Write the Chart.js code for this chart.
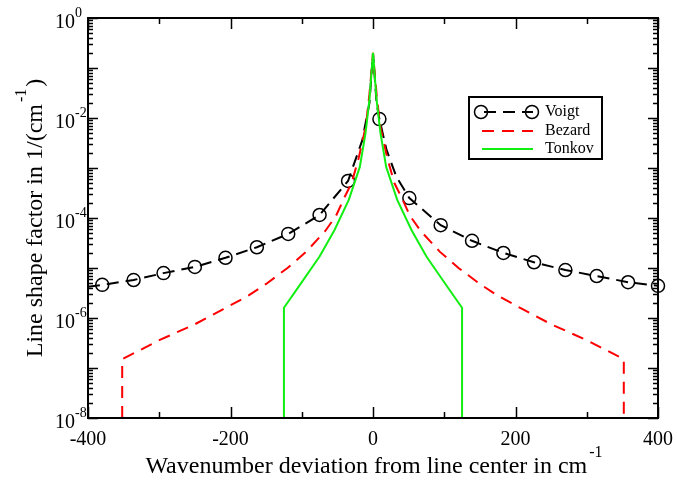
<!DOCTYPE html>
<html>
<head>
<meta charset="utf-8">
<script src="https://cdn.jsdelivr.net/npm/chart.js@4/dist/chart.umd.min.js"></script>
<style>
  html, body { margin: 0; padding: 0; background: #fff; }
  canvas { display: block; }
</style>
</head>
<body>
<canvas id="myChart" width="677" height="480"></canvas>
<script>
'use strict';

// Voigt profile (black dashed, circles on some points)
let voigtX = [-400, -380, -336, -294, -250, -207, -163, -119, -75, -35, -15, -5, 0, 5, 9, 19, 33, 51, 95, 139, 183, 226, 270, 314, 358, 400];
let voigtY = [4.2e-6, 4.6e-6, 5.75e-6, 7.9e-6, 1.05e-5, 1.6e-5, 2.6e-5, 4.8e-5, 1.15e-4, 5.5e-4, 3.6e-3, 0.02, 0.2, 0.02, 9.5e-3, 2.3e-3, 6.6e-4, 2.5e-4, 7.2e-5, 3.5e-5, 2e-5, 1.3e-5, 9.1e-6, 6.9e-6, 5.2e-6, 4.4e-6];
let voigtMarkers = [-380, -336, -294, -250, -207, -163, -119, -75, -35, 9, 51, 95, 139, 183, 226, 270, 314, 358, 400];

// Bezard profile (red dashed)
let bezardX = [-352, -352, -300, -250, -210, -175, -150, -120, -94, -67, -52, -40, -30, -20, -10, -5, 0, 5, 10, 20, 30, 40, 52, 67, 94, 120, 150, 175, 210, 250, 300, 352, 352];
let bezardY = [1e-8, 1.5e-7, 3.6e-7, 7.5e-7, 1.5e-6, 2.8e-6, 4.8e-6, 1e-5, 2.1e-5, 5.5e-5, 1.1e-4, 2.6e-4, 5e-4, 1.6e-3, 7e-3, 0.03, 0.2, 0.03, 7e-3, 1.6e-3, 5e-4, 2.6e-4, 1.1e-4, 5.5e-5, 2.1e-5, 1e-5, 4.8e-6, 2.8e-6, 1.5e-6, 7.5e-7, 3.6e-7, 1.5e-7, 1e-8];

// Tonkov profile (green)
let tonkovX = [-125, -125, -106, -75, -54, -34, -18.5, -10.5, -5, 0, 5, 10.5, 18.5, 34, 54, 75, 106, 125, 125];
let tonkovY = [1e-8, 1.6e-6, 3.9e-6, 1.7e-5, 5.75e-5, 2.3e-4, 1.05e-3, 5e-3, 0.023, 0.2, 0.023, 5e-3, 1.05e-3, 2.3e-4, 5.75e-5, 1.7e-5, 3.9e-6, 1.6e-6, 1e-8];

let xMajor = [-400, -200, 0, 200, 400];
let xMinor = [-300, -100, 100, 300];
let xTickLabels = ['-400', '-200', '0', '200', '400'];
let yDecades = [0, -1, -2, -3, -4, -5, -6, -7, -8];
let yLabelExps = ['0', '-2', '-4', '-6', '-8'];

let seriesNames = ['Voigt', 'Bezard', 'Tonkov'];

const serif = '"Liberation Serif", "Times New Roman", serif';

function toPoints(xs, ys) {
  return xs.map((x, i) => ({ x: x, y: ys[i] }));
}

// axes, ticks, labels and legend drawn like the xmgrace original
let graceAxes = {
  id: 'graceAxes',
  afterDatasetsDraw(chart) {
    const ctx = chart.ctx;
    const a = chart.chartArea;
    const xs = chart.scales.x;
    const ys = chart.scales.y;
    ctx.save();
    ctx.strokeStyle = '#000';
    ctx.fillStyle = '#000';

    // tick marks, inward on all four sides
    ctx.lineWidth = 1.5;
    ctx.beginPath();
    xMajor.forEach(v => {
      let p = Math.round(xs.getPixelForValue(v)) + 0.5;
      ctx.moveTo(p, a.bottom); ctx.lineTo(p, a.bottom - 11);
      ctx.moveTo(p, a.top); ctx.lineTo(p, a.top + 11);
    });
    xMinor.forEach(v => {
      let p = Math.round(xs.getPixelForValue(v)) + 0.5;
      ctx.moveTo(p, a.bottom); ctx.lineTo(p, a.bottom - 6);
      ctx.moveTo(p, a.top); ctx.lineTo(p, a.top + 6);
    });
    yDecades.forEach(d => {
      let p = Math.round(ys.getPixelForValue(Math.pow(10, d))) + 0.5;
      ctx.moveTo(a.left, p); ctx.lineTo(a.left + 10, p);
      ctx.moveTo(a.right, p); ctx.lineTo(a.right - 10, p);
      if (d > -8) {
        for (let m = 2; m <= 9; m++) {
          let q = Math.round(ys.getPixelForValue(m * Math.pow(10, d - 1))) + 0.5;
          ctx.moveTo(a.left, q); ctx.lineTo(a.left + 5, q);
          ctx.moveTo(a.right, q); ctx.lineTo(a.right - 5, q);
        }
      }
    });
    ctx.stroke();

    // frame
    ctx.lineWidth = 2;
    ctx.strokeRect(a.left, a.top, a.right - a.left, a.bottom - a.top);

    // x tick labels
    ctx.font = '20px ' + serif;
    ctx.textAlign = 'center';
    ctx.textBaseline = 'alphabetic';
    xMajor.forEach((v, i) => {
      ctx.fillText(xTickLabels[i], xs.getPixelForValue(v), a.bottom + 27);
    });

    // y tick labels: 10 with superscript exponent
    yLabelExps.forEach(e => {
      let p = ys.getPixelForValue(Math.pow(10, Number(e)));
      ctx.font = '20px ' + serif;
      ctx.textAlign = 'right';
      ctx.fillText('10', 75, p + 10);
      ctx.font = '14px ' + serif;
      ctx.textAlign = 'left';
      ctx.fillText(e, 75, p - 1);
    });

    // x title
    let xt = 'Wavenumber deviation from line center in cm';
    ctx.font = '24px ' + serif;
    ctx.textAlign = 'left';
    let w1 = ctx.measureText(xt).width;
    ctx.font = '16px ' + serif;
    let w2 = ctx.measureText('-1').width;
    let cx = (a.left + a.right) / 2;
    let x0 = cx - (w1 + w2) / 2;
    ctx.font = '24px ' + serif;
    ctx.fillText(xt, x0, 473);
    ctx.font = '16px ' + serif;
    ctx.fillText('-1', x0 + w1 + 2, 457);

    // y title (rotated)
    ctx.save();
    ctx.translate(42, (a.top + a.bottom) / 2);
    ctx.rotate(-Math.PI / 2);
    let yt = 'Line shape factor in 1/(cm';
    ctx.font = '24px ' + serif;
    let v1 = ctx.measureText(yt).width;
    ctx.font = '16px ' + serif;
    let v2 = ctx.measureText('-1').width;
    ctx.font = '24px ' + serif;
    let v3 = ctx.measureText(')').width;
    let y0 = -(v1 + v2 + v3 + 4) / 2;
    ctx.fillText(yt, y0, 0);
    ctx.font = '16px ' + serif;
    ctx.fillText('-1', y0 + v1 + 2, -16);
    ctx.font = '24px ' + serif;
    ctx.fillText(')', y0 + v1 + v2 + 4, 0);
    ctx.restore();

    // legend box
    const lx = 469, ly = 97, lw = 133, lh = 62;
    ctx.fillStyle = '#fff';
    ctx.fillRect(lx, ly, lw, lh);
    ctx.lineWidth = 2;
    ctx.strokeRect(lx, ly, lw, lh);
    let rows = [112, 131, 149];
    chart.data.datasets.forEach((ds, i) => {
      let ry = rows[i];
      ctx.save();
      ctx.strokeStyle = ds.borderColor;
      ctx.lineWidth = ds.borderWidth;
      ctx.setLineDash(ds.borderDash || []);
      ctx.beginPath();
      ctx.moveTo(i === 0 ? 484 : 482, ry);
      ctx.lineTo(533, ry);
      ctx.stroke();
      ctx.setLineDash([]);
      if (i === 0) {
        ctx.lineWidth = 1.5;
        ctx.beginPath(); ctx.arc(481, ry, 6.5, 0, Math.PI * 2); ctx.stroke();
        ctx.beginPath(); ctx.arc(532, ry, 6.5, 0, Math.PI * 2); ctx.stroke();
      }
      ctx.restore();
      ctx.fillStyle = '#000';
      ctx.font = '16px ' + serif;
      ctx.textAlign = 'left';
      ctx.textBaseline = 'middle';
      ctx.fillText(ds.label, 545, ry);
    });
    ctx.restore();
  }
};

let ctx = document.getElementById('myChart').getContext('2d');
let myChart = new Chart(ctx, {
  type: 'line',
  data: {
    datasets: [{
      label: seriesNames[0],
      data: toPoints(voigtX, voigtY),
      borderColor: '#000',
      borderWidth: 2,
      borderDash: [12, 7],
      pointStyle: 'circle',
      pointRadius: c => voigtMarkers.includes(voigtX[c.dataIndex]) ? 6.5 : 0,
      pointBorderColor: '#000',
      pointBackgroundColor: 'rgba(0,0,0,0)',
      pointBorderWidth: 1.5,
      clip: false,
      order: 2
    }, {
      label: seriesNames[1],
      data: toPoints(bezardX, bezardY),
      borderColor: '#ff0000',
      borderWidth: 2,
      borderDash: [12, 8],
      pointRadius: 0,
      order: 1
    }, {
      label: seriesNames[2],
      data: toPoints(tonkovX, tonkovY),
      borderColor: '#11ee11',
      borderWidth: 2,
      pointRadius: 0,
      order: 0
    }]
  },
  options: {
    responsive: false,
    animation: false,
    devicePixelRatio: 1,
    layout: { padding: { left: 88, right: 19, top: 18, bottom: 62 } },
    plugins: {
      legend: { display: false },
      tooltip: { enabled: false }
    },
    scales: {
      x: { type: 'linear', min: -400, max: 400, display: false },
      y: { type: 'logarithmic', min: 1e-8, max: 1, display: false }
    }
  },
  plugins: [graceAxes]
});
</script>
</body>
</html>
